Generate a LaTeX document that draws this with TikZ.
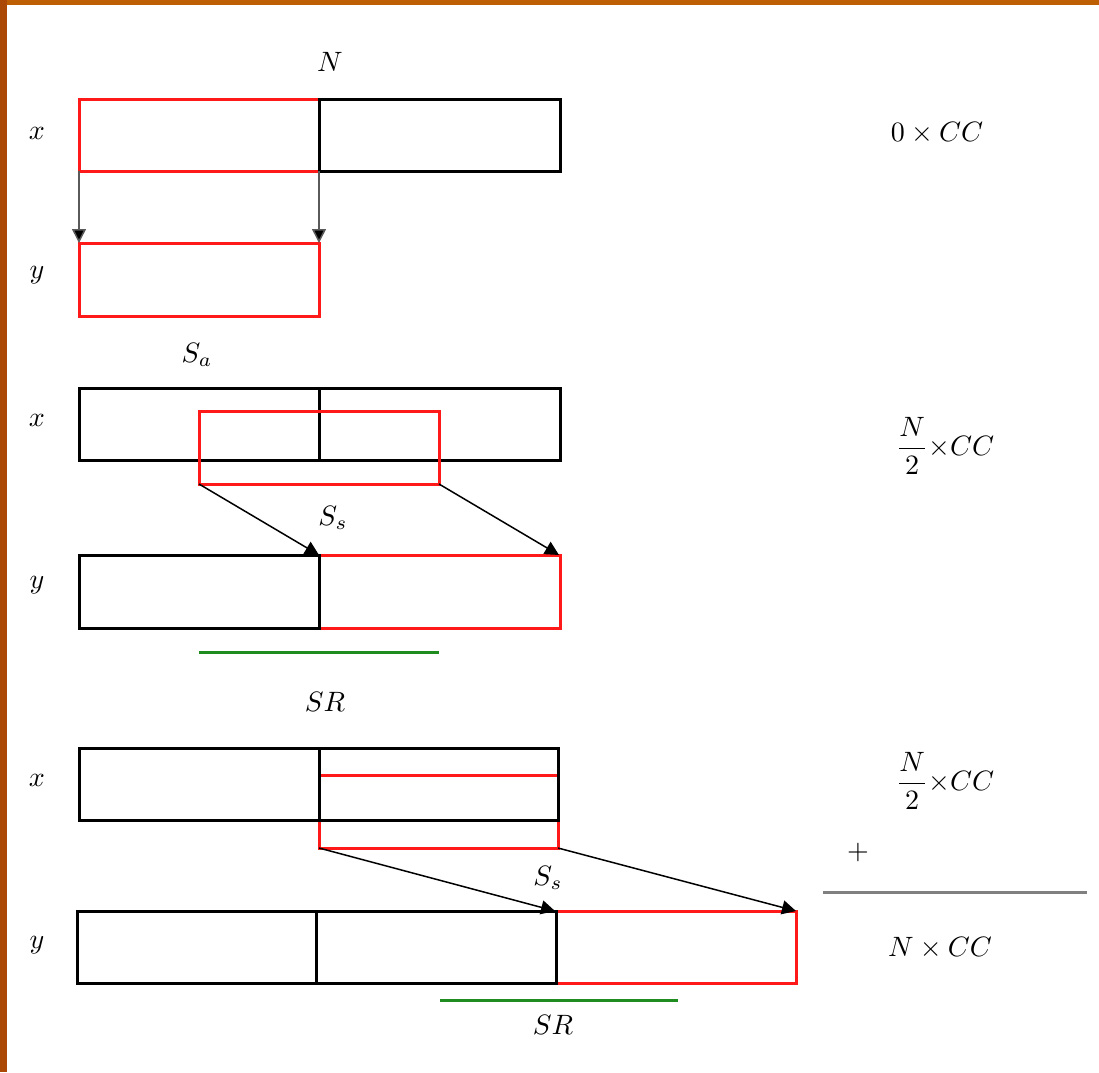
\documentclass[tikz,border=0pt]{standalone}
\usepackage{graphicx}
\usetikzlibrary{arrows.meta}
\definecolor{bord}{RGB}{190,95,5}
\definecolor{bordL}{RGB}{172,72,5}
\definecolor{rred}{RGB}{255,25,25}
\definecolor{ggreen}{RGB}{30,140,30}
\definecolor{arrgray}{RGB}{90,90,90}
\newcommand{\mylbl}[1]{\scalebox{2.8}{#1}}
\tikzset{
  blk/.style={draw=black,line width=3pt},
  redbox/.style={draw=rred,line width=3pt},
  arr/.style={draw=arrgray,line width=1.5pt,-{Triangle[length=14pt,width=14pt,fill=black]}},
  grn/.style={draw=ggreen,line width=3pt},
  lbl/.style={inner sep=0pt},
}
\begin{document}
\begin{tikzpicture}[x=1pt,y=-1pt]
\useasboundingbox (0,0) rectangle (1099,1072);
\fill[bord] (0,0) rectangle (1099,5);
\fill[bordL] (0,0) rectangle (7,1072);

% ---------- block 1 ----------
\draw[redbox] (79,99) rectangle (319,171);
\draw[blk] (319,99) rectangle (560,171);
\draw[redbox] (79,243) rectangle (319,316);
\coordinate (a1) at (79,171);  \coordinate (b1) at (79,243);
\coordinate (a2) at (319,171); \coordinate (b2) at (319,243);
\draw[arr] (a1) -- (b1);
\draw[arr] (a2) -- (b2);
\node[lbl] (n1) at (330,62) {\mylbl{$N$}};
\node[lbl] (x1) at (37,133) {\mylbl{$x$}};
\node[lbl] (y1) at (37,275) {\mylbl{$y$}};
\node[lbl] (c1) at (937,133) {\mylbl{$0\times CC$}};

% ---------- block 2 ----------
\draw[blk] (79,388) rectangle (560,460);
\draw[blk] (319,388) -- (319,460);
\draw[redbox] (199,411) rectangle (439,484);
\draw[redbox] (319,555) rectangle (560,628);
\draw[blk] (79,555) rectangle (319,628);
\coordinate (a3) at (199,484); \coordinate (b3) at (319,555);
\coordinate (a4) at (439,484); \coordinate (b4) at (559,555);
\draw[arr,draw=black] (a3) -- (b3);
\draw[arr,draw=black] (a4) -- (b4);
\coordinate (g1) at (199,652); \coordinate (g2) at (439,652);
\draw[grn] (g1) -- (g2);
\node[lbl] (sa) at (197,355) {\mylbl{$S_a$}};
\node[lbl] (ss1) at (333,518) {\mylbl{$S_s$}};
\node[lbl] (x2) at (37,420) {\mylbl{$x$}};
\node[lbl] (y2) at (37,585) {\mylbl{$y$}};
\node[lbl] (c2) at (945,446) {\mylbl{$\displaystyle\frac{N}{2}{\times}CC$}};

% ---------- block 3 ----------
\draw[redbox] (319,775) rectangle (558,848);
\draw[blk] (79,748) rectangle (558,820);
\draw[blk] (319,748) -- (319,820);
\draw[redbox] (556,911) rectangle (796,983);
\draw[blk] (77,911) rectangle (556,983);
\draw[blk] (316,911) -- (316,983);
\coordinate (a5) at (319,848); \coordinate (b5) at (555,911);
\coordinate (a6) at (558,848); \coordinate (b6) at (796,911);
\draw[arr,draw=black] (a5) -- (b5);
\draw[arr,draw=black] (a6) -- (b6);
\coordinate (g3) at (440,1000); \coordinate (g4) at (678,1000);
\draw[grn] (g3) -- (g4);
\node[lbl] (sr1) at (325,702) {\mylbl{$SR$}};
\node[lbl] (ss2) at (548,878) {\mylbl{$S_s$}};
\node[lbl] (sr2) at (553,1025) {\mylbl{$SR$}};
\node[lbl] (x3) at (37,780) {\mylbl{$x$}};
\node[lbl] (y3) at (37,945) {\mylbl{$y$}};
\node[lbl] (c3) at (945,781) {\mylbl{$\displaystyle\frac{N}{2}{\times}CC$}};
\node[lbl] (plus) at (858,852) {\mylbl{$+$}};
\coordinate (s1) at (823,892); \coordinate (s2) at (1087,892);
\draw[draw=gray,line width=3pt] (s1) -- (s2);
\node[lbl] (c4) at (940,948) {\mylbl{$N\times CC$}};
\end{tikzpicture}
\end{document}
